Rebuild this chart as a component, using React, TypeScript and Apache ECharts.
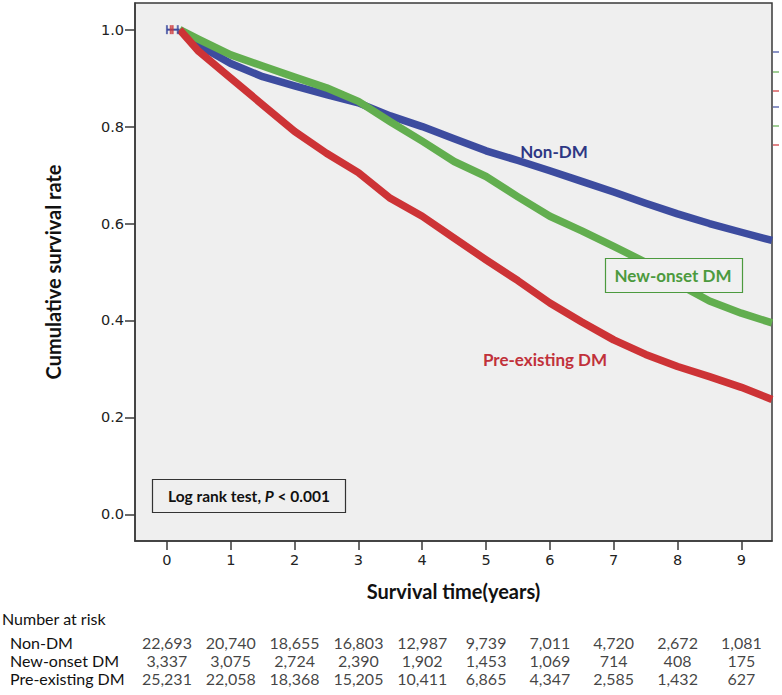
import React, { useEffect, useRef } from "react";
import * as echarts from "echarts";

const times = [0.2, 0.5, 1, 1.5, 2, 2.5, 3, 3.5, 4, 4.5, 5, 5.5, 6, 6.5, 7, 7.5, 8, 8.5, 9, 9.48];
const nonDM = [1.0, 0.968, 0.93, 0.903, 0.884, 0.866, 0.849, 0.822, 0.8, 0.775, 0.75, 0.73, 0.709, 0.687, 0.665, 0.642, 0.62, 0.6, 0.582, 0.565];
const newOnset = [1.0, 0.98, 0.948, 0.925, 0.902, 0.88, 0.852, 0.81, 0.77, 0.728, 0.697, 0.655, 0.615, 0.585, 0.553, 0.52, 0.476, 0.44, 0.415, 0.395];
const preExisting = [1.0, 0.955, 0.9, 0.845, 0.79, 0.745, 0.705, 0.652, 0.615, 0.57, 0.525, 0.482, 0.436, 0.397, 0.36, 0.33, 0.305, 0.284, 0.262, 0.237];

const censorNonDM = [0.0, 0.17];
const censorPre = [0.06, 0.09];

const xTicks = [0, 1, 2, 3, 4, 5, 6, 7, 8, 9];
const yTicks = [0, 0.2, 0.4, 0.6, 0.8, 1.0];

const riskGroups = ["Non-DM", "New-onset DM", "Pre-existing DM"];
const riskNonDM = [22693, 20740, 18655, 16803, 12987, 9739, 7011, 4720, 2672, 1081];
const riskNewOnset = [3337, 3075, 2724, 2390, 1902, 1453, 1069, 714, 408, 175];
const riskPre = [25231, 22058, 18368, 15205, 10411, 6865, 4347, 2585, 1432, 627];

const BLUE = "#3d4c9f";
const GREEN = "#62ae4f";
const RED = "#cd3336";
const FONT = "Lato";

export default function App() {
  const ref = useRef<HTMLDivElement>(null);
  useEffect(() => {
    if (!ref.current) return;
    const chart = echarts.init(ref.current, undefined, { renderer: "svg" });
    const xMin = -0.5;
    const xMax = 9.48;
    const riskRows = [riskNonDM, riskNewOnset, riskPre];
    const riskData: any[] = [];
    riskRows.forEach((row, r) => {
      row.forEach((v, i) => riskData.push([xTicks[i], riskGroups[r], v]));
    });
    const pairs = (ys: number[]) => times.map((t, i) => [t, ys[i]]);
    const curve = (name: string, ys: number[], color: string, z: number) => ({
      type: "line",
      name,
      data: pairs(ys),
      showSymbol: false,
      lineStyle: { color, width: 7.5, join: "round", cap: "butt" },
      itemStyle: { color },
      z,
    });
    const option: any = {
      animation: false,
      backgroundColor: "#ffffff",
      grid: [
        {
          left: 135,
          right: 10,
          top: 3,
          height: 538,
          show: true,
          backgroundColor: "#efefef",
          borderColor: "#3a3a3a",
          borderWidth: 1.5,
        },
        { left: 135, right: 10, top: 633, height: 54 },
      ],
      xAxis: [
        {
          type: "value",
          gridIndex: 0,
          min: xMin,
          max: xMax,
          name: "Survival time(years)",
          nameLocation: "middle",
          nameGap: 40,
          nameTextStyle: { fontFamily: FONT, fontWeight: "bold", fontSize: 20, color: "#111" },
          axisLine: { show: true, onZero: false, lineStyle: { color: "#3a3a3a", width: 1.5 } },
          axisTick: { show: true, length: 9, customValues: xTicks, lineStyle: { color: "#3a3a3a", width: 1.5 } },
          axisLabel: { customValues: xTicks, margin: 11, fontFamily: "DejaVu Sans", fontSize: 14.5, color: "#222" },
          splitLine: { show: false },
        },
        {
          type: "value",
          gridIndex: 1,
          min: xMin,
          max: xMax,
          show: false,
        },
      ],
      yAxis: [
        {
          type: "value",
          gridIndex: 0,
          min: -0.055,
          max: 1.055,
          name: "Cumulative survival rate",
          nameLocation: "middle",
          nameGap: 72,
          nameRotate: 90,
          nameTextStyle: { fontFamily: FONT, fontWeight: "bold", fontSize: 20, color: "#111" },
          axisLine: { show: true, onZero: false, lineStyle: { color: "#3a3a3a", width: 1.5 } },
          axisTick: { show: true, length: 10, customValues: yTicks, lineStyle: { color: "#3a3a3a", width: 1.5 } },
          axisLabel: {
            customValues: yTicks,
            margin: 11,
            fontFamily: "DejaVu Sans",
            fontSize: 14.5,
            color: "#222",
            formatter: (v: number) => v.toFixed(1),
          },
          splitLine: { show: false },
        },
        {
          type: "category",
          gridIndex: 1,
          data: riskGroups,
          inverse: true,
          axisLine: { show: false },
          axisTick: { show: false },
          axisLabel: { interval: 0, align: "left", margin: 125, fontFamily: FONT, fontSize: 16, color: "#111" },
        },
      ],
      series: [
        curve("Non-DM", nonDM, BLUE, 2),
        curve("New-onset DM", newOnset, GREEN, 3),
        curve("Pre-existing DM", preExisting, RED, 4),
        {
          type: "line",
          data: [[censorNonDM[0], 1.0], [times[0], 1.0]],
          showSymbol: false,
          lineStyle: { color: BLUE, width: 2 },
          z: 1,
        },
        {
          type: "scatter",
          data: censorNonDM.map((t) => [t, 1.0]),
          symbol: "rect",
          symbolSize: [2, 9],
          itemStyle: { color: BLUE },
          z: 5,
        },
        {
          type: "scatter",
          data: censorPre.map((t) => [t, 1.0]),
          symbol: "rect",
          symbolSize: [2, 9],
          itemStyle: { color: RED },
          z: 5,
        },
        {
          type: "scatter",
          xAxisIndex: 1,
          yAxisIndex: 1,
          data: riskData,
          symbolSize: 0,
          encode: { x: 0, y: 1 },
          label: {
            show: true,
            position: "inside",
            fontFamily: FONT,
            fontSize: 16,
            color: "#111",
            formatter: (p: any) => Number(p.value[2]).toLocaleString("en-US"),
          },
        },
      ],
      graphic: [
        {
          type: "text",
          left: 2,
          top: 610,
          style: { text: "Number at risk", fontFamily: FONT, fontSize: 16, fill: "#111" },
        },
        {
          type: "text",
          x: 554,
          y: 151,
          z: 100,
          style: { text: "Non-DM", fontFamily: FONT, fontSize: 17, fontWeight: "bold", fill: "#2e3784", align: "center", verticalAlign: "middle" },
        },
        {
          type: "rect",
          z: 100,
          shape: { x: 605.5, y: 258.5, width: 137, height: 34 },
          style: { fill: "#f0f0f0", stroke: "#4c9a3e", lineWidth: 1.2 },
        },
        {
          type: "text",
          x: 673,
          y: 275,
          z: 101,
          style: { text: "New-onset DM", fontFamily: FONT, fontSize: 17, fontWeight: "bold", fill: "#4c9a3e", align: "center", verticalAlign: "middle" },
        },
        {
          type: "text",
          x: 545,
          y: 359,
          z: 100,
          style: { text: "Pre-existing DM", fontFamily: FONT, fontSize: 17, fontWeight: "bold", fill: "#c1313a", align: "center", verticalAlign: "middle" },
        },
        {
          type: "rect",
          z: 100,
          shape: { x: 152.5, y: 479.5, width: 193, height: 33 },
          style: { fill: "#efefef", stroke: "#333", lineWidth: 1.2 },
        },
        {
          type: "text",
          x: 249,
          y: 496,
          z: 101,
          style: {
            text: "{a|Log rank test, }{b|P}{a| < 0.001}",
            align: "center",
            verticalAlign: "middle",
            rich: {
              a: { fontFamily: FONT, fontSize: 15.5, fontWeight: "bold", fill: "#111" },
              b: { fontFamily: FONT, fontSize: 15.5, fontWeight: "bold", fontStyle: "italic", fill: "#111" },
            },
          },
        },
        { type: "line", shape: { x1: 773, y1: 52, x2: 779, y2: 52 }, style: { stroke: BLUE, lineWidth: 1.2 } },
        { type: "line", shape: { x1: 773, y1: 72, x2: 779, y2: 72 }, style: { stroke: GREEN, lineWidth: 1.2 } },
        { type: "line", shape: { x1: 773, y1: 91, x2: 779, y2: 91 }, style: { stroke: RED, lineWidth: 1.2 } },
        { type: "line", shape: { x1: 773, y1: 107, x2: 779, y2: 107 }, style: { stroke: BLUE, lineWidth: 1.2 } },
        { type: "line", shape: { x1: 773, y1: 126, x2: 779, y2: 126 }, style: { stroke: GREEN, lineWidth: 1.2 } },
        { type: "line", shape: { x1: 773, y1: 145, x2: 779, y2: 145 }, style: { stroke: RED, lineWidth: 1.2 } },
      ],
    };
    chart.setOption(option);
    return () => chart.dispose();
  }, []);
  return (
    <div
      ref={ref}
      style={{ position: "fixed", left: 0, top: 0, width: 782, height: 695, background: "#fff" }}
    />
  );
}
